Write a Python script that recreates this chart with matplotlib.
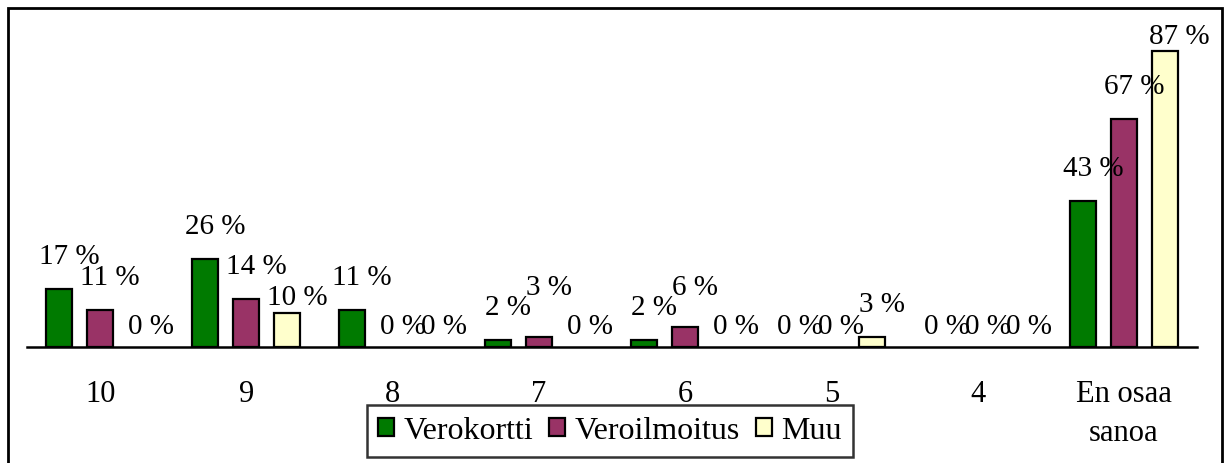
import matplotlib
matplotlib.use("Agg")
import matplotlib.pyplot as plt
from matplotlib.patches import Rectangle, Patch
import numpy as np

# Survey answers by category (percent of respondents)
categories = ["10", "9", "8", "7", "6", "5", "4", "En osaa\nsanoa"]
series_names = ["Verokortti", "Veroilmoitus", "Muu"]
verokortti = [17, 26, 11, 2, 2, 0, 0, 43]
veroilmoitus = [11, 14, 0, 3, 6, 0, 0, 67]
muu = [0, 10, 0, 0, 0, 3, 0, 87]

colors = ["#007A00", "#993366", "#FFFFCC"]

plt.rcParams["font.family"] = ["Liberation Serif", "DejaVu Serif"]

W, H, DPI = 1230, 464, 100
fig = plt.figure(figsize=(W / DPI, H / DPI), dpi=DPI)

# plot area in pixel terms
left_px, right_px = 27, 1197
base_px = 348
ymax = 95
px_per_unit = 3.4
top_px = base_px - ymax * px_per_unit
ax = fig.add_axes([left_px / W, (H - base_px) / H,
                   (right_px - left_px) / W, (base_px - top_px) / H])

x = np.arange(len(categories))
bar_w = 0.178
step = 0.28
all_series = [verokortti, veroilmoitus, muu]
fs_lab = 21
fs_tick = 22
fs_leg = 23
unit_x = (right_px - left_px) / len(categories)  # pixels per category

for i, (vals, name, col) in enumerate(zip(all_series, series_names, colors)):
    pos = x + (i - 1) * step
    lw = [1.6 if v > 0 else 0 for v in vals]
    ax.bar(pos, vals, width=bar_w, color=col, edgecolor="black",
           linewidth=lw, zorder=3)

# value labels: placed above each bar, nudged to dodge the previous label
label_w_px, label_h_px = 62, 20
for g in range(len(categories)):
    prev = None
    for i, vals in enumerate(all_series):
        v = vals[g]
        xp = g + (i - 1) * step
        top = base_px - v * px_per_unit
        cy = top - (33 if v > 0 else 21)
        cx = xp * unit_x + left_px + unit_x / 2 + 10
        if prev is not None and v > 0:
            pcx, pcy, pv = prev
            if abs(cx - pcx) < label_w_px and abs(cy - pcy) < label_h_px:
                if v < pv:
                    cy = top - 16
                else:
                    cy = pcy - 20
        if cy < 37:
            cy = 37
            cx += 4
        prev = (cx, cy, v)
        ax.text(cx / W, 1 - cy / H, f"{v} %", transform=fig.transFigure,
                ha="center", va="center", fontsize=fs_lab, color="black",
                zorder=4)

ax.set_xlim(-0.5, len(categories) - 0.5)
ax.set_ylim(0, ymax)
ax.set_xticks(x)
ax.set_xticklabels([])
ax.tick_params(axis="x", length=0)
for xi, cat in zip(x, categories):
    ax.annotate(cat, xy=(xi, 0), xycoords=("data", "axes fraction"),
                xytext=(0, -23), textcoords="offset points",
                ha="center", va="top", fontsize=fs_tick, linespacing=1.45)
ax.set_yticks([])
for s in ["top", "left", "right"]:
    ax.spines[s].set_visible(False)
ax.spines["bottom"].set_linewidth(1.8)
ax.spines["bottom"].set_color("black")
ax.patch.set_visible(False)

handles = [Patch(facecolor=c, edgecolor="black", linewidth=1.6)
           for c in colors]
leg = fig.legend(handles, series_names, loc="center",
                 bbox_to_anchor=(610 / W, 1 - 432 / H),
                 ncol=3, fontsize=fs_leg, frameon=True, fancybox=False,
                 handlelength=0.5, handleheight=0.5, handletextpad=0.3,
                 columnspacing=0.5, borderpad=0.35, borderaxespad=0)
leg.get_frame().set_edgecolor("black")
leg.get_frame().set_linewidth(1.8)

# outer chart border
fig.patches.append(Rectangle((8 / W, -0.05), (1222 - 8) / W, 1.05 - 9 / H,
                             transform=fig.transFigure, fill=False,
                             edgecolor="black", linewidth=2.0))

fig.savefig("out.png", dpi=DPI)
